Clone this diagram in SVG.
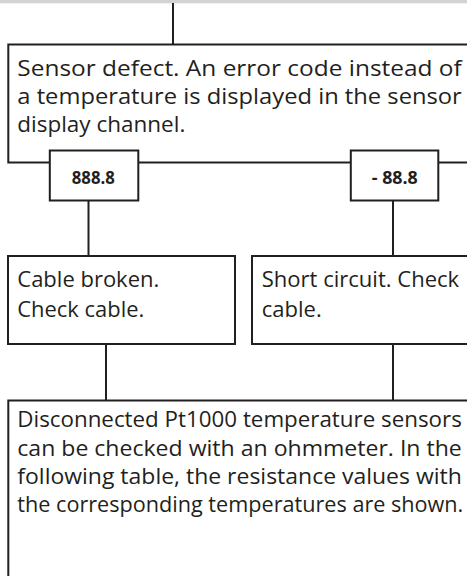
<svg xmlns="http://www.w3.org/2000/svg" width="467" height="576" viewBox="0 0 467 576">
<style>
.box{fill:#fff;stroke:#231f20;stroke-width:2}
.ln{fill:none;stroke:#231f20;stroke-width:2}
.t{font-family:"Open Sans","Noto Sans","Liberation Sans",sans-serif;font-size:21px;fill:#231f20}
.b{font-family:"Open Sans","Liberation Sans",sans-serif;font-size:18px;font-weight:bold;fill:#231f20;text-anchor:middle}
</style>
<rect x="0" y="0" width="467" height="3.3" fill="#d2d3d5"/>
<g id="connectors">
<line class="ln" x1="173" y1="3" x2="173" y2="44"/>
<line class="ln" x1="88.5" y1="200" x2="88.5" y2="256"/>
<line class="ln" x1="393" y1="200" x2="393" y2="256"/>
<line class="ln" x1="106" y1="344" x2="106" y2="401"/>
<line class="ln" x1="393" y1="344" x2="393" y2="401"/>
</g>
<g id="sensor-defect">
<rect class="box" x="8.3" y="44.5" width="470" height="118"/>
<text class="t"><tspan x="17.3" y="75.5" textLength="444.5" lengthAdjust="spacingAndGlyphs">Sensor defect. An error code instead of</tspan><tspan x="17.3" y="104" textLength="444.5" lengthAdjust="spacingAndGlyphs">a temperature is displayed in the sensor</tspan><tspan x="17.3" y="132" textLength="168" lengthAdjust="spacingAndGlyphs">display channel.</tspan></text>
</g>
<g id="code-888">
<rect class="box" x="49.8" y="150.5" width="88.5" height="50"/>
<text class="b" x="93.3" y="184.3" textLength="43" lengthAdjust="spacingAndGlyphs">888.8</text>
</g>
<g id="code-minus88">
<rect class="box" x="350.8" y="150.5" width="87.5" height="50"/>
<text class="b" x="394.8" y="184.3" textLength="46" lengthAdjust="spacingAndGlyphs">- 88.8</text>
</g>
<g id="cable-broken">
<rect class="box" x="8" y="256" width="227" height="88"/>
<text class="t"><tspan x="17.3" y="286.7" textLength="142" lengthAdjust="spacingAndGlyphs">Cable broken.</tspan><tspan x="17.3" y="317" textLength="127" lengthAdjust="spacingAndGlyphs">Check cable.</tspan></text>
</g>
<g id="short-circuit">
<rect class="box" x="252" y="256" width="230" height="88"/>
<text class="t"><tspan x="261.7" y="286.7" textLength="197.5" lengthAdjust="spacingAndGlyphs">Short circuit. Check</tspan><tspan x="261.7" y="317" textLength="60" lengthAdjust="spacingAndGlyphs">cable.</tspan></text>
</g>
<g id="ohmmeter">
<rect class="box" x="8.3" y="400.5" width="470" height="190"/>
<text class="t"><tspan x="17.3" y="427.3" textLength="444.5" lengthAdjust="spacingAndGlyphs">Disconnected Pt1000 temperature sensors</tspan><tspan x="17.3" y="455.8" textLength="444.5" lengthAdjust="spacingAndGlyphs">can be checked with an ohmmeter. In the</tspan><tspan x="17.3" y="484" textLength="444.5" lengthAdjust="spacingAndGlyphs">following table, the resistance values with</tspan><tspan x="17.3" y="512" textLength="446" lengthAdjust="spacingAndGlyphs">the corresponding temperatures are shown.</tspan></text>
</g>
</svg>
